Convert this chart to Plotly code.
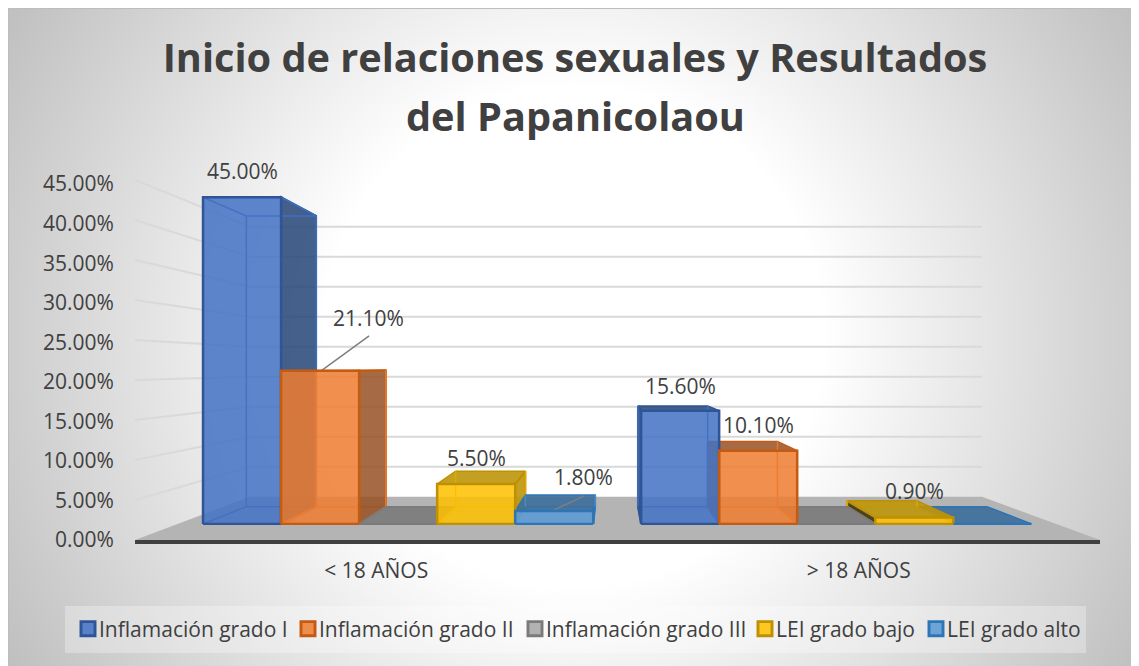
import base64
import plotly.graph_objects as go

# ---------- data ----------
categories = ["< 18 AÑOS", "> 18 AÑOS"]
series_names = ["Inflamación grado I", "Inflamación grado II", "Inflamación grado III",
                "LEI grado bajo", "LEI grado alto"]
inflamacion_1 = [0.45, 0.156]
inflamacion_2 = [0.211, 0.101]
inflamacion_3 = [0.0, 0.0]
lei_bajo = [0.055, 0.009]
lei_alto = [0.018, 0.0]
series_values = [inflamacion_1, inflamacion_2, inflamacion_3, lei_bajo, lei_alto]
wall_ticks = [0, 0.05, 0.10, 0.15, 0.20, 0.25, 0.30, 0.35, 0.40, 0.45]
title_lines = ["Inicio de relaciones sexuales y Resultados", "del Papanicolaou"]

# ---------- style ----------
FRONT = ["rgba(68,114,196,0.86)", "rgba(237,125,49,0.86)", "rgba(165,165,165,0.86)",
         "rgba(255,192,0,0.86)", "rgba(91,155,213,0.88)"]
EDGE = ["#2f5597", "#c55a11", "#7b7b7b", "#bf9000", "#2e75b6"]
INNER = ["#3f6fc0", "#e67a30", "#8a8a8a", "#e0a800", "#4a8cc8"]
DARK = ["rgba(38,68,120,0.85)", "rgba(150,80,35,0.85)", "rgba(125,125,125,0.95)",
        "rgba(190,150,10,0.9)", "rgba(60,110,155,0.9)"]
DARK_LEFT = ["rgba(38,68,120,0.85)", "rgba(150,80,35,0.85)", "rgba(125,125,125,0.95)",
             "rgba(70,60,30,0.95)", "rgba(60,110,155,0.9)"]
TEXT = "#404040"
FONT = "Open Sans"
TICK_SIZE = 21
TITLE_SIZE = 39.7
# pixel nudges of the data labels relative to the top of each bar
LABEL_SHIFT = {(0, 0): (0, 26), (1, 0): (48, 53), (3, 0): (0, 26), (4, 0): (29, 34),
               (0, 1): (0, 25), (1, 1): (0, 26), (3, 1): (0, 26)}
LEADERS = {(1, 0): (1, 0, 49, 35), (4, 0): (0, -1, 30, 15)}
LEGEND_TEXT_X = [99, 319, 546, 776, 947]

# ---------- page / perspective geometry (page pixels) ----------
W, H, PAD = 1131, 658, 8
FL, FR, BL, BR = 135, 1100, 250, 982     # floor corners, front and back
Y_FRONT, Y_BACK = 540, 496.7
S_FRONT, S_BACK = 800, 600               # pixels per unit value
TOP = 140
D0, D1 = 0.37, 0.77                      # bar depth range
U0, CAT_U, BAR_U = 0.029, 0.4985, 0.0888


def project(u, v, d):
    left = FL + (BL - FL) * d
    right = FR + (BR - FR) * d
    return (left + u * (right - left),
            Y_FRONT + (Y_BACK - Y_FRONT) * d - v * (S_FRONT + (S_BACK - S_FRONT) * d))


def to_axes(px, py):
    return ((px - FL) / (FR - FL) * 2 - 0.5, (Y_FRONT - py) / S_FRONT)


def path(points):
    pts = [to_axes(*project(*p)) for p in points]
    return [p[0] for p in pts], [p[1] for p in pts]


fig = go.Figure()


def poly(points, fill=None, line=None, width=1.5):
    x, y = path(points)
    fig.add_trace(go.Scatter(
        x=x, y=y, mode="lines", xaxis="x", yaxis="y", showlegend=False, hoverinfo="skip",
        fill="toself" if fill else None, fillcolor=fill,
        line=dict(color=line or "rgba(0,0,0,0)", width=width if line else 0)))


# walls
for v in wall_ticks[1:]:
    poly([(0, v, 0), (0, v, 1), (1, v, 1)], line="#d9d9d9", width=2)
# floor
poly([(0, 0, 0), (1, 0, 0), (1, 0, 1), (0, 0, 1), (0, 0, 0)], fill="#b4b4b4")

# depth faces of the bars (painted from the outside towards the centre of view)
for k in range(len(categories)):
    order = range(len(series_values))
    for i in (order if k == 0 else reversed(order)):
        v = series_values[i][k]
        a = U0 + k * CAT_U + i * BAR_U
        b = a + BAR_U
        fa, fb = project(a, v, D0), project(b, v, D0)
        ba, bb = project(a, v, D1), project(b, v, D1)
        top = [(a, v, D0), (b, v, D0), (b, v, D1), (a, v, D1), (a, v, D0)]
        right = [(b, 0, D0), (b, 0, D1), (b, v, D1), (b, v, D0), (b, 0, D0)]
        left = [(a, 0, D0), (a, 0, D1), (a, v, D1), (a, v, D0), (a, 0, D0)]
        # inner (back) edges seen through the translucent front
        poly([(a, 0, D0), (a, 0, D1), (b, 0, D1), (b, 0, D0)], line=INNER[i], width=1.5)
        if bb[0] > fb[0] and v > 0:
            poly(right, fill=DARK[i], line=EDGE[i], width=2)
        if ba[0] < fa[0] and v > 0:
            poly(left, fill=DARK_LEFT[i], line=EDGE[i], width=2)
        if ba[1] < fa[1]:
            poly(top, fill=DARK[i], line=EDGE[i], width=1.5)
        elif v > 0:
            poly([(a, v, D0), (a, v, D1), (b, v, D1), (b, v, D0)], line=INNER[i], width=1.5)
        if v > 0:
            poly([(a, 0, D1), (a, v, D1)], line=INNER[i], width=1.5)
            poly([(b, 0, D1), (b, v, D1)], line=INNER[i], width=1.5)
        poly([(a, 0, D0), (b, 0, D0)], line=EDGE[i], width=2)

# front faces: real bars on their own axes, lying in the plane of the bar fronts
gap = 1 - len(series_values) * BAR_U / CAT_U
centre0 = U0 + len(series_values) * BAR_U / 2
x2_left = project(centre0 - CAT_U / 2, 0, D0)[0]
x2_right = project(centre0 + 1.5 * CAT_U, 0, D0)[0]
bar_y0 = project(0, 0, D0)[1]
bar_scale = bar_y0 - project(0, 1, D0)[1]

for i, (name, vals) in enumerate(zip(series_names, series_values)):
    fig.add_trace(go.Bar(
        name=name, x=categories, y=vals, xaxis="x2", yaxis="y2",
        legend="legend" if i == 0 else f"legend{i + 1}",
        marker=dict(color=FRONT[i], line=dict(color=EDGE[i], width=2.5))))

# leader lines
for (i, k), (dx0, dy0, dx1, dy1) in LEADERS.items():
    v = series_values[i][k]
    cx, cy = project(U0 + k * CAT_U + (i + 0.5) * BAR_U, v, D0)
    p0, p1 = to_axes(cx + dx0, cy + dy0), to_axes(cx + dx1, cy - dy1)
    fig.add_trace(go.Scatter(x=[p0[0], p1[0]], y=[p0[1], p1[1]], mode="lines",
                             xaxis="x", yaxis="y", showlegend=False, hoverinfo="skip",
                             line=dict(color="#7f7f7f", width=1.5)))

# the value axis labels sit on their own slightly tighter axis, as in the picture
LABEL_SCALE = 791
fig.add_trace(go.Scatter(x=[0], y=[0], mode="markers", marker=dict(opacity=0), xaxis="x", yaxis="y3",
                         showlegend=False, hoverinfo="skip"))

annotations = []
for (i, k), (sx, sy) in LABEL_SHIFT.items():
    v = series_values[i][k]
    annotations.append(dict(
        x=k + (i - 2) * (1 - gap) / 5, y=v, xref="x2", yref="y2", xshift=sx, yshift=sy,
        text=f"{v * 100:.2f}%", showarrow=False, xanchor="center", yanchor="middle",
        font=dict(family=FONT, size=TICK_SIZE, color=TEXT)))

# background gradient
svg = (f'<svg xmlns="http://www.w3.org/2000/svg" width="{W}" height="{H}">'
       f'<defs><radialGradient id="g" gradientUnits="userSpaceOnUse" cx="{W / 2}" cy="{H / 2}" r="655">'
       '<stop offset="0%" stop-color="#ffffff"/><stop offset="38%" stop-color="#ffffff"/>'
       '<stop offset="100%" stop-color="#bfbfbf"/></radialGradient></defs>'
       f'<rect width="{W}" height="{H}" fill="url(#g)"/>'
       f'<path d="M0.5,{H}V0.5H{W}" fill="none" stroke="#bdbdbd"/></svg>')
bg = "data:image/svg+xml;base64," + base64.b64encode(svg.encode()).decode()

ml, mr = FL - PAD, W + PAD - FR
mt, mb = TOP - PAD, H + PAD - Y_FRONT
pw, ph = FR - FL, Y_FRONT - TOP
to_px = lambda px: (px - FL) / pw
to_py = lambda py: (Y_FRONT - py) / ph

# second title line
annotations.append(dict(
    x=to_px(575), y=to_py(116), xref="paper", yref="paper", text=f"<b>{title_lines[1]}</b>",
    showarrow=False, xanchor="center", yanchor="middle",
    font=dict(family=FONT, size=TITLE_SIZE, color=TEXT)))

legends = {}
for i, tx in enumerate(LEGEND_TEXT_X):
    legends["legend" if i == 0 else f"legend{i + 1}"] = dict(
        x=to_px(tx - 40), y=to_py(629), xanchor="left", yanchor="middle",
        bgcolor="rgba(0,0,0,0)", borderwidth=0, orientation="v", itemwidth=30,
        font=dict(family=FONT, size=21, color=TEXT))

fig.update_layout(
    width=W, height=H, autosize=False,
    margin=dict(l=ml, r=mr, t=mt, b=mb, pad=0, autoexpand=False),
    paper_bgcolor="white", plot_bgcolor="rgba(0,0,0,0)",
    barmode="group", bargap=gap, bargroupgap=0,
    font=dict(family=FONT, color=TEXT),
    title=dict(text=f"<b>{title_lines[0]}</b>", x=(575 - PAD) / W, xanchor="center",
               y=1 - (58 - PAD) / H, yanchor="middle", xref="container", yref="container",
               font=dict(family=FONT, size=TITLE_SIZE, color=TEXT)),
    xaxis=dict(type="linear", range=[-0.5, 1.5], tickmode="array", tickvals=[0, 1], ticktext=categories,
               showgrid=False, zeroline=False, showline=True, linecolor="#404040", linewidth=4,
               ticks="outside", ticklen=9, tickcolor="rgba(0,0,0,0)",
               tickfont=dict(family=FONT, size=TICK_SIZE, color=TEXT)),
    yaxis=dict(range=[0, (Y_FRONT - TOP) / S_FRONT], showticklabels=False, ticks="",
               showgrid=False, zeroline=False, showline=False),
    yaxis3=dict(overlaying="y", side="left", anchor="x",
                range=[0, (Y_FRONT - TOP) / LABEL_SCALE], tickmode="array", tickvals=wall_ticks,
                tickformat=".2%", showgrid=False, zeroline=False, showline=False,
                ticks="outside", ticklen=16, tickcolor="rgba(0,0,0,0)",
                tickfont=dict(family=FONT, size=TICK_SIZE, color=TEXT)),
    xaxis2=dict(domain=[to_px(x2_left), to_px(x2_right)], range=[-0.5, 1.5], type="category",
                categoryorder="array", categoryarray=categories, visible=False, anchor="y2"),
    yaxis2=dict(domain=[to_py(bar_y0), 1], range=[0, (bar_y0 - TOP) / bar_scale], visible=False, anchor="x2"),
    images=[dict(source=bg, xref="paper", yref="paper", x=-ml / pw, y=1 + mt / ph,
                 sizex=W / pw, sizey=H / ph, xanchor="left", yanchor="top",
                 sizing="stretch", layer="below")],
    shapes=[dict(type="rect", xref="paper", yref="paper", x0=to_px(65), x1=to_px(1086),
                 y0=to_py(606), y1=to_py(653), fillcolor="rgba(255,255,255,0.3)",
                 line=dict(width=0), layer="below")],
    annotations=annotations,
    **legends,
)

post = """
document.body.style.overflow='hidden';
document.querySelectorAll('.legendsymbols').forEach(function(el){
  el.setAttribute('transform','translate(9,0)');
});
document.querySelectorAll('.legendsymbols path').forEach(function(el){
  el.setAttribute('transform',(el.getAttribute('transform')||'')+' scale(1.17)');
});
"""
fig.write_html("out.html", post_script=post, config={"displayModeBar": False})
